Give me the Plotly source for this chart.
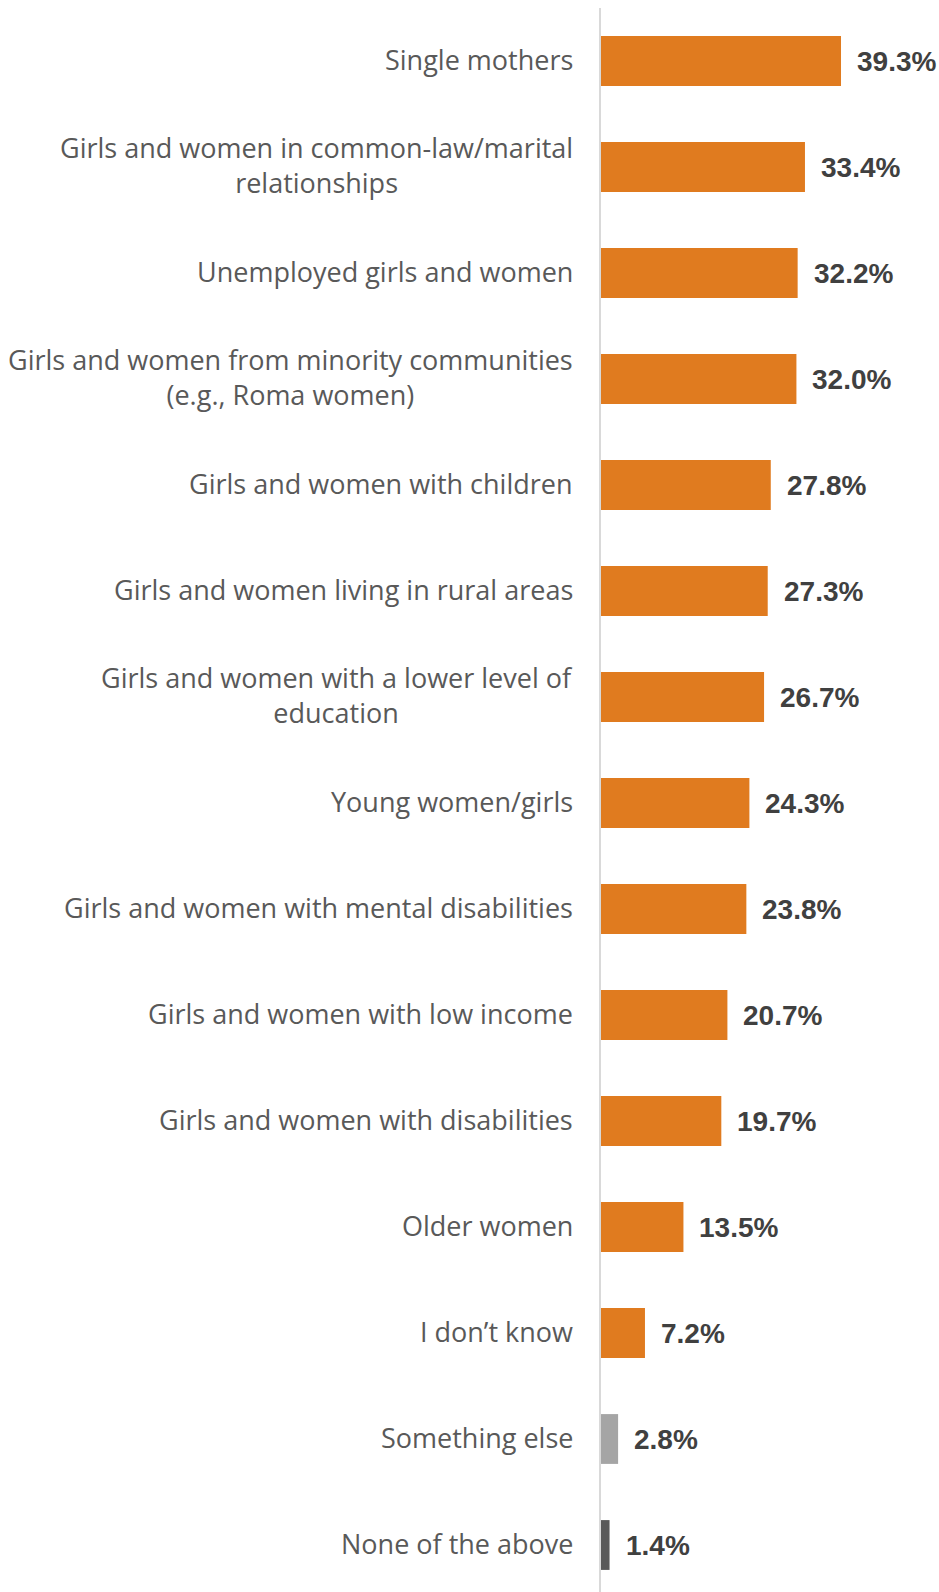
import plotly.graph_objects as go

categories = [
    "Single mothers",
    "Girls and women in common-law/marital<br>relationships",
    "Unemployed girls and women",
    "Girls and women from minority communities<br>(e.g., Roma women)",
    "Girls and women with children",
    "Girls and women living in rural areas",
    "Girls and women with a lower level of<br>education",
    "Young women/girls",
    "Girls and women with mental disabilities",
    "Girls and women with low income",
    "Girls and women with disabilities",
    "Older women",
    "I don\u2019t know",
    "Something else",
    "None of the above",
]
values = [39.3, 33.4, 32.2, 32.0, 27.8, 27.3, 26.7, 24.3, 23.8, 20.7, 19.7, 13.5, 7.2, 2.8, 1.4]
value_labels = ["39.3%", "33.4%", "32.2%", "32.0%", "27.8%", "27.3%", "26.7%", "24.3%",
                "23.8%", "20.7%", "19.7%", "13.5%", "7.2%", "2.8%", "1.4%"]

ORANGE = "#E07B1F"
colors = [ORANGE] * 13 + ["#A5A5A5", "#595959"]

ids = list(range(len(categories)))

fig = go.Figure()
fig.add_trace(go.Bar(
    x=values, y=ids, orientation="h",
    marker=dict(color=colors, line=dict(width=0)),
    width=0.47, hoverinfo="skip",
))

annotations = []
for i, (cat, v, lab) in enumerate(zip(categories, values, value_labels)):
    annotations.append(dict(
        x=0, y=i, xref="x", yref="y", text=cat, showarrow=False,
        xanchor="right", yanchor="middle", align="center", xshift=-26, yshift=2,
        font=dict(family="Open Sans", size=27, color="#595959"),
    ))
    annotations.append(dict(
        x=v, y=i, xref="x", yref="y", text="<b>" + lab + "</b>", showarrow=False,
        xanchor="left", yanchor="middle", xshift=14,
        font=dict(family="Liberation Sans", size=28, color="#404040"),
    ))

fig.update_layout(
    width=939, height=1592,
    margin=dict(l=601, r=0, t=8, b=0),
    paper_bgcolor="white", plot_bgcolor="white",
    showlegend=False,
    annotations=annotations,
    xaxis=dict(range=[0, 338 / 6.107], showgrid=False, zeroline=False,
               showticklabels=False, ticks=""),
    yaxis=dict(range=[-0.5 + 1584 / 106, -0.5], showgrid=False, zeroline=False,
               showticklabels=False, ticks="", showline=True,
               linecolor="#D9D9D9", linewidth=2),
)

fig.write_html("out.html")
